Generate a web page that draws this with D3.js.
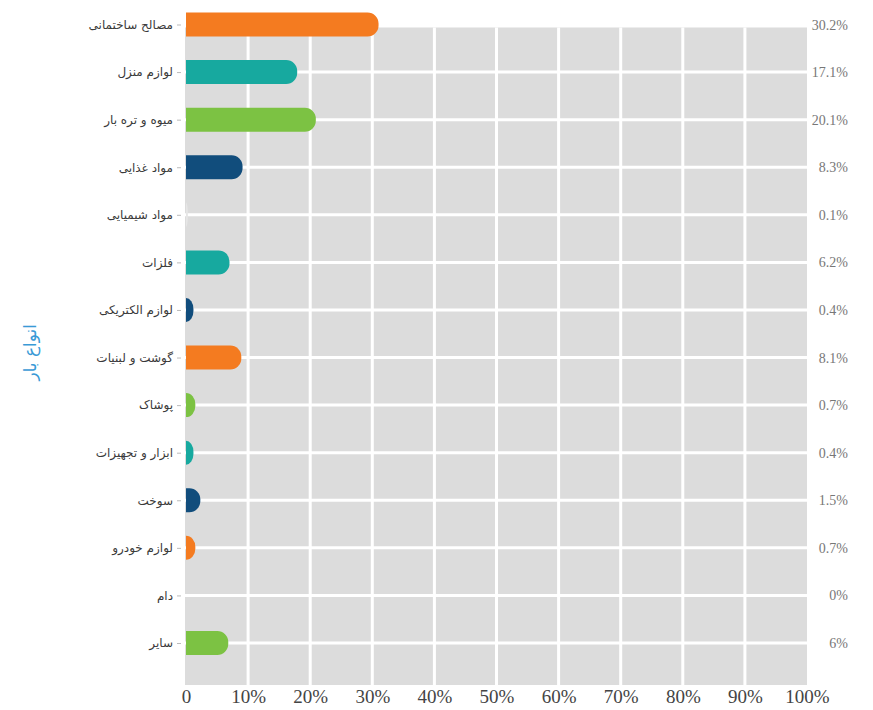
<!DOCTYPE html>
<meta charset="utf-8">
<style>
  body { margin: 0; background: #fff; }
  .cat { font-family: "DejaVu Sans", sans-serif; font-size: 12px; fill: #3a3a3a; }
  .val { font-family: "Liberation Serif", serif; font-size: 14px; fill: #777; }
  .xt  { font-family: "Liberation Serif", serif; font-size: 19px; fill: #444; }
</style>
<div id="chart"></div>
<script src="https://d3js.org/d3.v7.min.js"></script>
<script>
var categories = ["مصالح ساختمانی", "لوازم منزل", "میوه و تره بار", "مواد غذایی", "مواد شیمیایی",
  "فلزات", "لوازم الکتریکی", "گوشت و لبنیات", "پوشاک", "ابزار و تجهیزات",
  "سوخت", "لوازم خودرو", "دام", "سایر"];
var values = [30.2, 17.1, 20.1, 8.3, 0.1, 6.2, 0.4, 8.1, 0.7, 0.4, 1.5, 0.7, 0, 6];
var valueLabels = ["30.2%", "17.1%", "20.1%", "8.3%", "0.1%", "6.2%", "0.4%", "8.1%",
  "0.7%", "0.4%", "1.5%", "0.7%", "0%", "6%"];
var barColors = ["#f47b20", "#17a99f", "#7cc243", "#114d7c", "#e6e6e6", "#17a99f", "#114d7c",
  "#f47b20", "#7cc243", "#17a99f", "#114d7c", "#f47b20", "#f47b20", "#7cc243"];
var xTicks = [0, 10, 20, 30, 40, 50, 60, 70, 80, 90, 100];
var xTickLabels = ["0", "10%", "20%", "30%", "40%", "50%", "60%", "70%", "80%", "90%", "100%"];
var yTitle = "انواع بار";

var width = 873, height = 710;
var svg = d3.select("#chart").append("svg")
    .attr("width", width).attr("height", height);

var x = d3.scaleLinear().domain([0, 100]).range([186, 807]);
var y = d3.scalePoint().domain(categories).range([24.5, 643]);

var plotTop = y(categories[0]) + 3,
    plotBottom = y(categories[categories.length - 1]) + 42;

// grey plot background
svg.append("rect")
    .attr("x", x(0) - 1).attr("y", plotTop)
    .attr("width", x(100) - x(0) + 1).attr("height", plotBottom - plotTop)
    .attr("fill", "#dcdcdc");

// white grid
svg.append("g").selectAll("line")
    .data(xTicks.slice(1, -1))
    .join("line")
    .attr("x1", d => x(d)).attr("x2", d => x(d))
    .attr("y1", plotTop).attr("y2", plotBottom)
    .attr("stroke", "#fff").attr("stroke-width", 3);

svg.append("g").selectAll("line")
    .data(categories.slice(1))
    .join("line")
    .attr("x1", x(0) - 1).attr("x2", x(100))
    .attr("y1", d => y(d)).attr("y2", d => y(d))
    .attr("stroke", "#fff").attr("stroke-width", 3);

// bars, flat left, rounded right
var barH = 24;
function barPath(cy, v) {
  var x0 = x(0), w = x(v) - x0;
  var tw = w + Math.min(5, w * 2);
  var x1 = x0 + tw;
  var t = cy - barH / 2, b = cy + barH / 2;
  var rx = Math.min(11, tw), ry = 11;
  return "M" + x0 + "," + t + "H" + (x1 - rx) +
    "A" + rx + "," + ry + " 0 0 1 " + x1 + "," + (t + ry) +
    "V" + (b - ry) +
    "A" + rx + "," + ry + " 0 0 1 " + (x1 - rx) + "," + b +
    "H" + x0 + "Z";
}

svg.append("g").selectAll("path")
    .data(categories.filter((c, i) => values[i] > 0))
    .join("path")
    .attr("d", c => barPath(y(c), values[categories.indexOf(c)]))
    .attr("fill", c => barColors[categories.indexOf(c)]);

// y axis: ticks and category labels
var yAxis = svg.append("g")
    .attr("transform", "translate(" + (x(0) - 5) + ",0)")
    .call(d3.axisLeft(y).tickSize(4).tickPadding(4));
yAxis.select(".domain").remove();
yAxis.selectAll(".tick line").attr("stroke", "#bbb");
yAxis.selectAll(".tick text").attr("class", "cat").attr("font-family", null).attr("font-size", null);

// value labels on the right
svg.append("g").selectAll("text")
    .data(categories)
    .join("text")
    .attr("class", "val")
    .attr("x", 848)
    .attr("y", c => y(c) + 5)
    .attr("text-anchor", "end")
    .text((c, i) => valueLabels[i]);

// x axis labels
var xAxis = svg.append("g")
    .attr("transform", "translate(0," + plotBottom + ")")
    .call(d3.axisBottom(x).tickValues(xTicks).tickSize(0).tickPadding(5)
      .tickFormat((d, i) => xTickLabels[i]));
xAxis.select(".domain").remove();
xAxis.selectAll(".tick text").attr("class", "xt").attr("font-family", null).attr("font-size", null);

// y title
svg.append("text")
    .attr("transform", "translate(36," + ((plotTop + plotBottom) / 2 - 4) + ") rotate(-90)")
    .attr("text-anchor", "middle")
    .attr("font-family", "DejaVu Sans, sans-serif")
    .attr("font-size", 17)
    .attr("fill", "#3a9ad6")
    .text(yTitle);
</script>
